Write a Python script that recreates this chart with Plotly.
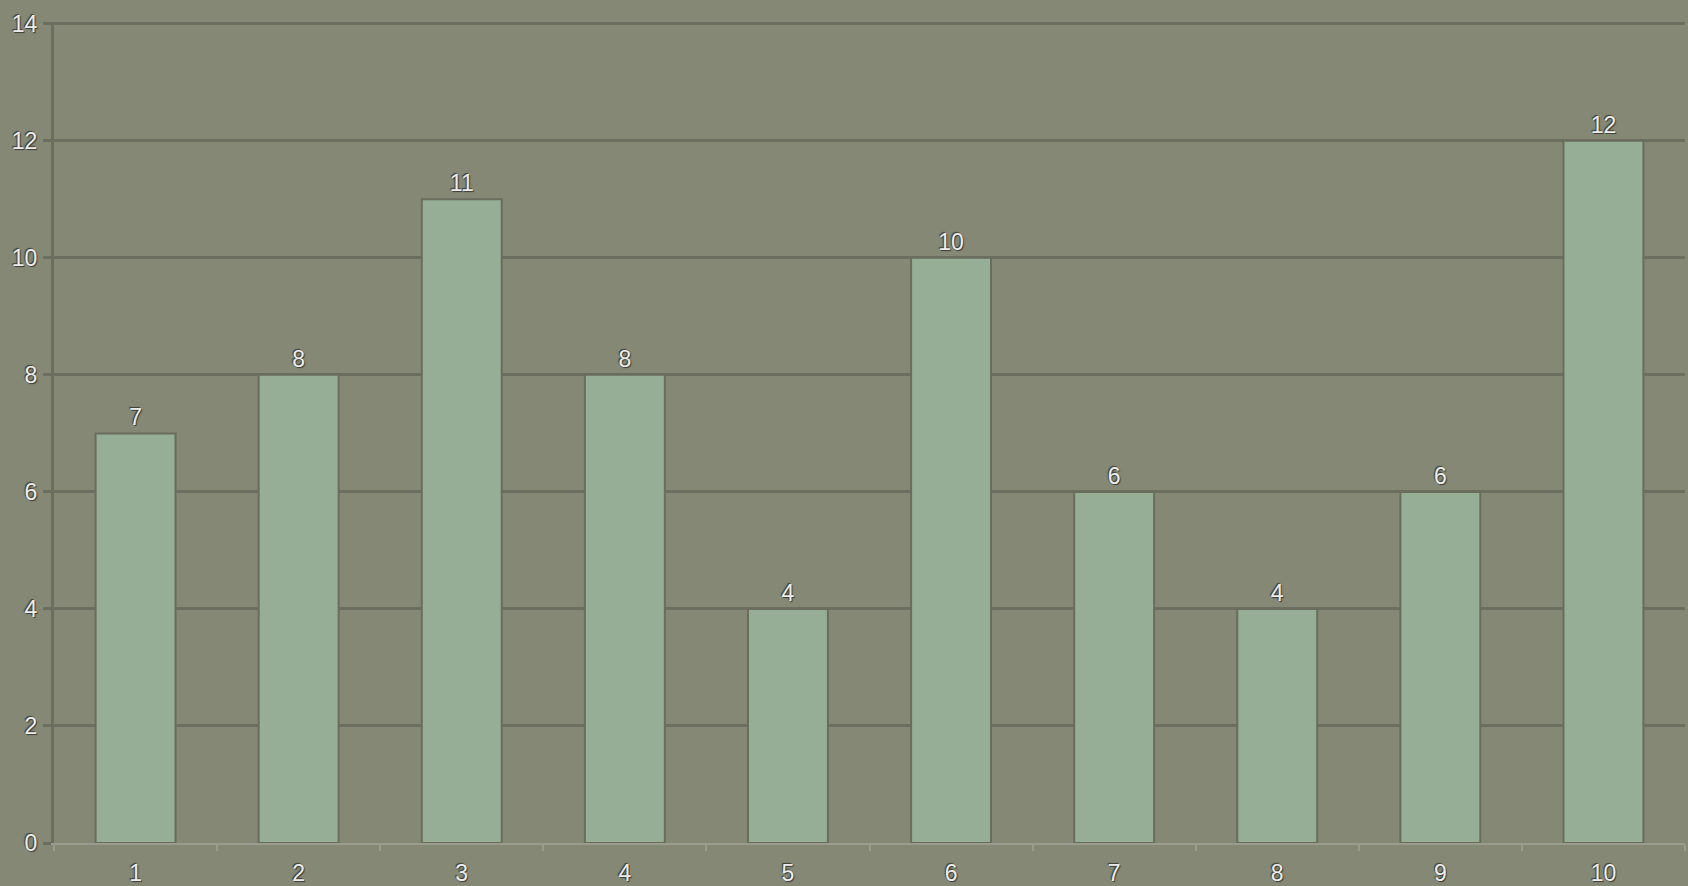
import plotly.graph_objects as go

categories = ["1", "2", "3", "4", "5", "6", "7", "8", "9", "10"]
values = [7, 8, 11, 8, 4, 10, 6, 4, 6, 12]
y_ticks = [0, 2, 4, 6, 8, 10, 12, 14]

BG = "#858875"
BAR = "#95ae95"
GRID = "#6c6f5f"
TXT = "#ececec"
FONT = "Liberation Sans, Arial, sans-serif"
SHADOW = "1px 1px 1px #3a3c33, -1px -1px 1px #3a3c33"
FS = 23

fig = go.Figure(
    go.Bar(
        x=categories,
        y=values,
        width=0.49,
        marker=dict(color=BAR, line=dict(color="#6a6d5d", width=2)),
        text=[str(v) for v in values],
        textposition="outside",
        textfont=dict(color=TXT, size=FS, family=FONT, shadow=SHADOW),
        cliponaxis=False,
        hoverinfo="skip",
    )
)

fig.update_layout(
    width=1688,
    height=886,
    margin=dict(l=54, r=3, t=22, b=43),
    paper_bgcolor=BG,
    plot_bgcolor=BG,
    showlegend=False,
    bargap=0.51,
    font=dict(family=FONT, color=TXT, size=FS, shadow=SHADOW),
)
fig.update_xaxes(
    type="category",
    range=[-0.5, 9.5],
    tickson="boundaries",
    ticks="outside",
    ticklen=6,
    tickwidth=2,
    tickcolor="#9a9d8e",
    showline=True,
    linecolor="#9a9d8e",
    linewidth=2,
    showgrid=False,
    tickfont=dict(size=FS, color=TXT, shadow=SHADOW),
    ticklabelstandoff=8,
    automargin=False,
)
fig.update_yaxes(
    range=[0, 14.03],
    tickvals=y_ticks,
    ticks="outside",
    ticklen=8,
    tickwidth=3,
    tickcolor=GRID,
    showline=True,
    linecolor=GRID,
    linewidth=3,
    showgrid=True,
    gridcolor=GRID,
    gridwidth=3,
    zeroline=False,
    tickfont=dict(size=FS, color=TXT, shadow=SHADOW),
    ticklabelstandoff=1,
    automargin=False,
)

fig.write_html(
    "out.html",
    config={"displayModeBar": False},
    post_script="document.body.style.margin='0';document.body.style.padding='0';",
)
